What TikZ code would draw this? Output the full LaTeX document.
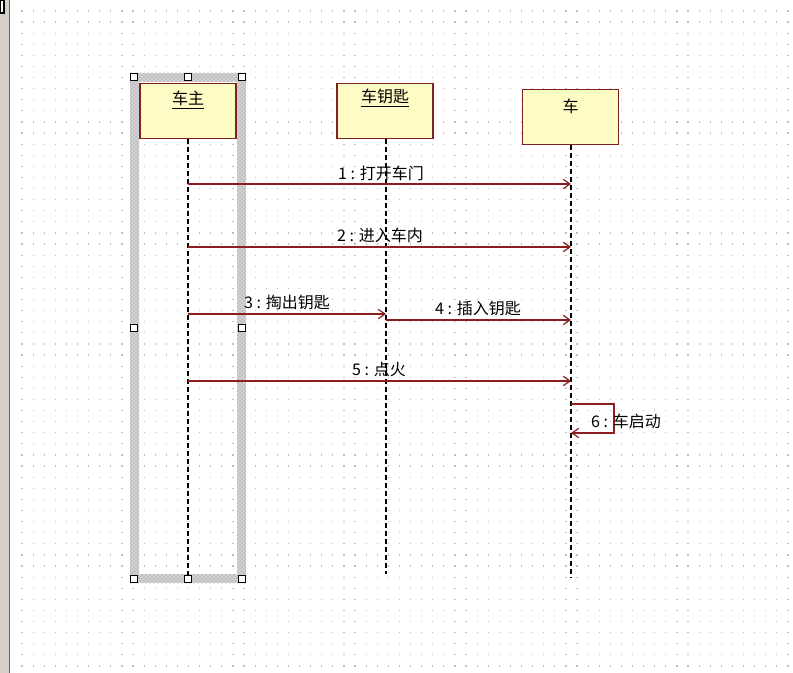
\documentclass[tikz,border=0pt]{standalone}
\usepackage{fontspec}
\newfontfamily\cjk{Noto Sans CJK SC}
\usepackage{xcolor}
\usepackage{tikz}
\usetikzlibrary{arrows.meta}
\usetikzlibrary{patterns}
\definecolor{boxfill}{RGB}{255,251,196}
\definecolor{boxline}{RGB}{128,32,32}
\definecolor{msgline}{RGB}{140,30,30}
\definecolor{griddot}{RGB}{190,190,190}
\definecolor{panel}{RGB}{212,208,200}
\tikzset{>=latex}
\tikzstyle{obj} = [rectangle, draw = boxline, fill = boxfill, line width = 1pt, minimum width = 72pt, minimum height = 41pt, inner sep = 0]
\tikzstyle{objname} = [draw = none, inner sep = 0, font = \cjk\fontsize{12}{14}\selectfont]
\tikzstyle{life} = [-, black, line width = 1pt, dash pattern = on 3.5pt off 2.5pt]
\tikzstyle{msg} = [-{Straight Barb[length = 5pt, width = 7pt]}, msgline, line width = 0.9pt]
\tikzstyle{msglabel} = [draw = none, inner sep = 0, font = \cjk\fontsize{12}{14}\selectfont]
\tikzstyle{handle} = [rectangle, draw = black, fill = white, line width = 0.9pt, minimum size = 5.5pt, inner sep = 0]

\begin{document}
\begin{tikzpicture}[x = 0.75pt, y = -0.75pt]
\useasboundingbox (0, 0) rectangle (793, 673);
% canvas
\fill[white] (0, 0) rectangle (793, 673);
\foreach \i in {0,...,69}
  \foreach \j in {0,...,59}
    \fill[griddot] (21.4 + 11.1*\i, 10.4 + 11.1*\j) rectangle ++(1.2, 1.2);
\fill[panel] (0, 0) rectangle (9, 673);
\draw[black!60, line width = 1pt] (9.5, 0) -- (9.5, 673);
\draw[black, fill = white, line width = 0.8pt] (0, 0) rectangle (4, 13);

% selection frame round the owner
\fill[gray!35, even odd rule] (130, 73) rectangle (246, 583) (139, 82) rectangle (237, 574);
\fill[pattern = crosshatch dots, pattern color = gray!90, even odd rule] (130, 73) rectangle (246, 583) (139, 82) rectangle (237, 574);

% objects
\node [obj] (owner) at (188, 111) {};
\node [obj] (key) at (385, 111) {};
\node [obj] (car) at (570.5, 117) {};
\node [objname] (ownerName) at (188, 100) {\underline{车主}};
\node [objname] (keyName) at (385, 98) {\underline{车钥匙}};
\node [objname] (carName) at (570.5, 106) {车};

% lifelines
\coordinate (ownerEnd) at (188, 578);
\coordinate (keyEnd) at (386, 574);
\coordinate (carEnd) at (571, 578);
\draw [life] (owner.south) -- (ownerEnd);
\draw [life] (key.south -| keyEnd) -- (keyEnd);
\draw [life] (car.south -| carEnd) -- (carEnd);

% messages
\draw [msg] (ownerEnd |- 0, 184) -- (carEnd |- 0, 184);
\node [msglabel] (t1) at (381, 173) {1 : 打开车门};
\draw [msg] (ownerEnd |- 0, 247) -- (carEnd |- 0, 247);
\node [msglabel] (t2) at (380, 235) {2 : 进入车内};
\draw [msg] (ownerEnd |- 0, 314) -- (keyEnd |- 0, 314);
\node [msglabel] (t3) at (287, 302) {3 : 掏出钥匙};
\draw [msg] (keyEnd |- 0, 320) -- (carEnd |- 0, 320);
\node [msglabel] (t4) at (478, 308) {4 : 插入钥匙};
\draw [msg] (ownerEnd |- 0, 381) -- (carEnd |- 0, 381);
\node [msglabel] (t5) at (379, 369) {5 : 点火};
\draw [msg] (carEnd |- 0, 404) -- ++(43, 0) -- ++(0, 29) -- (carEnd |- 0, 433);
\node [msglabel] (t6) at (626, 421) {6 : 车启动};

% handles
\foreach \p [count = \k] in {(134, 77), (188, 77), (242, 77), (134, 328), (242, 328), (134, 579), (188, 579), (242, 579)}
  \node [handle] (h\k) at \p {};
\end{tikzpicture}
\end{document}
